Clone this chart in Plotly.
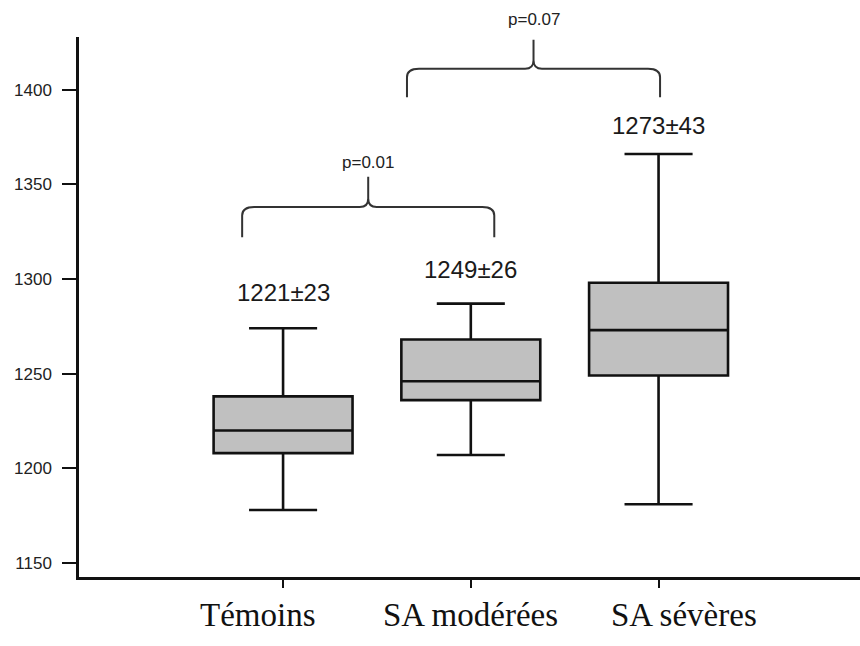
import plotly.graph_objects as go

# ---- data ----
categories = ["Témoins", "SA modérées", "SA sévères"]
lower_whisker = [1178, 1207, 1181]
q1_values = [1208, 1236, 1249]
median_values = [1220, 1246, 1273]
q3_values = [1238, 1268, 1298]
upper_whisker = [1274, 1287, 1366]
means = [1221, 1249, 1273]
sds = [23, 26, 43]
y_ticks = [1150, 1200, 1250, 1300, 1350, 1400]
comparisons = [(0, 1, "p=0.01"), (1, 2, "p=0.07")]

fig = go.Figure()

for i, cat in enumerate(categories):
    fig.add_trace(go.Box(
        x=[i], q1=[q1_values[i]], median=[median_values[i]], q3=[q3_values[i]],
        lowerfence=[lower_whisker[i]], upperfence=[upper_whisker[i]],
        width=0.74, whiskerwidth=0.49, boxpoints=False,
        fillcolor="#c0c0c0", line=dict(color="#111111", width=2.6),
        showlegend=False, hoverinfo="skip", name=cat,
    ))

# mean ± sd labels above each box
label_shift = [36, 34, 29]
for i in range(len(categories)):
    fig.add_annotation(x=i, y=upper_whisker[i], yshift=label_shift[i],
                       text=f"{means[i]}±{sds[i]}", showarrow=False,
                       yanchor="middle", xanchor="center",
                       font=dict(family="Liberation Sans, Arial", size=24, color="#1a1a1a"))

# category labels (serif, below the axis)
label_offsets = [-0.138, 0.0, 0.133]
for i, cat in enumerate(categories):
    fig.add_annotation(x=i + label_offsets[i], y=-0.071, xref="x", yref="paper",
                       text=cat, showarrow=False, yanchor="middle", xanchor="center",
                       font=dict(family="Liberation Serif, Times New Roman", size=33, color="#111111"))

# braces with p-values
brace_geom = [
    dict(dx0=-0.218, dx1=0.125, y_end=1322, y_h=1338, y_peak=1354, p_shift=3),
    dict(dx0=-0.340, dx1=0.008, y_end=1396, y_h=1411, y_peak=1426.4, p_shift=9),
]
rh, rv, rh2, rv2 = 0.064, 4.5, 0.045, 4.5
y_lo, y_hi = 1142.6, 1427.8
for (a, b, ptxt), g in zip(comparisons, brace_geom):
    x0 = a + g["dx0"]
    x1 = b + g["dx1"]
    xc = (x0 + x1) / 2
    ye, yh, yp = g["y_end"], g["y_h"], g["y_peak"]
    path = (f"M {x0},{ye} L {x0},{yh - rv} Q {x0},{yh} {x0 + rh},{yh} "
            f"L {xc - rh2},{yh} Q {xc},{yh} {xc},{yh + rv2} L {xc},{yp} "
            f"M {xc},{yh + rv2} Q {xc},{yh} {xc + rh2},{yh} "
            f"L {x1 - rh},{yh} Q {x1},{yh} {x1},{yh - rv} L {x1},{ye}")
    fig.add_shape(type="path", path=path, xref="x", yref="y",
                  line=dict(color="#333333", width=2))
    fig.add_annotation(x=xc, y=(yp - y_lo) / (y_hi - y_lo), xref="x", yref="paper",
                       yshift=g["p_shift"], text=ptxt, showarrow=False,
                       yanchor="bottom", xanchor="center",
                       font=dict(family="Liberation Sans, Arial", size=17, color="#222222"))

fig.update_layout(
    width=860, height=646,
    margin=dict(l=79, r=0, t=37, b=69, autoexpand=False),
    paper_bgcolor="white", plot_bgcolor="white",
    xaxis=dict(range=[-1.087, 3.073], tickvals=[0, 1, 2], ticktext=["", "", ""],
               showgrid=False, zeroline=False, showline=True, linecolor="#111111",
               linewidth=2.5, ticks="outside", ticklen=8, tickwidth=2, tickcolor="#111111",
               automargin=False),
    yaxis=dict(range=[y_lo, y_hi], tickvals=y_ticks, showgrid=False, zeroline=False,
               showline=True, linecolor="#111111", linewidth=2.5, ticks="outside",
               ticklen=14, tickwidth=2.2, tickcolor="#111111", ticklabelstandoff=7,
               automargin=False,
               tickfont=dict(family="Liberation Sans, Arial", size=17, color="#222222")),
)

fig.write_html("out.html", config={"displayModeBar": False},
               post_script="document.body.style.margin='0';")
